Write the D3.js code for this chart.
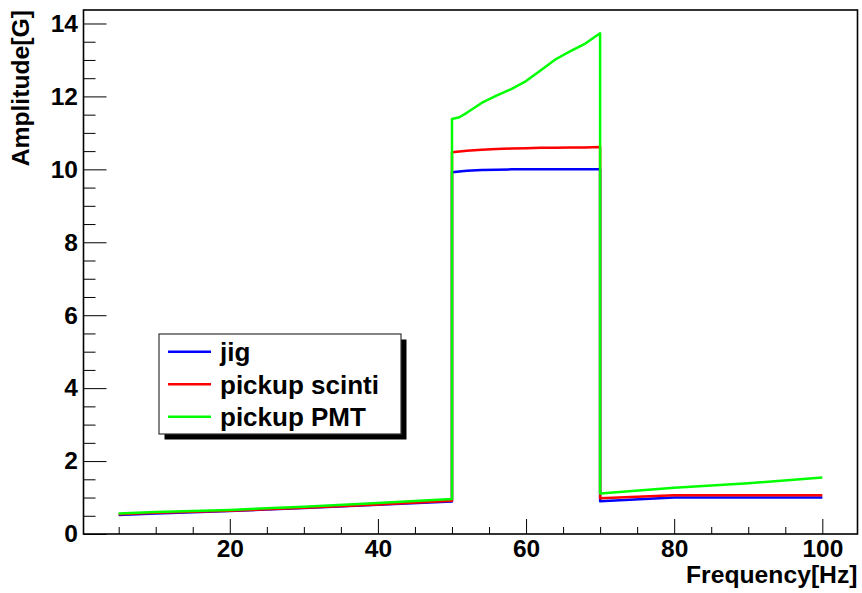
<!DOCTYPE html>
<html>
<head>
<meta charset="utf-8">
<script src="https://cdn.jsdelivr.net/npm/d3@7"></script>
<style>
  html, body { margin: 0; padding: 0; background: #fff; }
  svg { display: block; }
  text { font-family: "Liberation Sans", Arial, Helvetica, sans-serif; font-weight: bold; fill: #000; }
</style>
</head>
<body>
<svg id="chart" width="862" height="593"></svg>
<script>
// Frequency sweep (Hz); 50 and 70 appear twice to mark the step edges
const frequency = [5, 10, 20, 30, 40, 50, 50, 51, 52, 54, 56, 58, 60, 62, 64, 66, 68, 70, 70, 80, 90, 100];

// Measured amplitude (G) for each sensor
const jig          = [0.52, 0.56, 0.63, 0.71, 0.80, 0.89, 9.92, 9.94, 9.96, 9.98, 9.99, 10.0, 10.0, 10.0, 10.0, 10.0, 10.0, 10.0, 0.90, 1.00, 1.00, 1.00];
const pickupScinti = [0.54, 0.58, 0.64, 0.72, 0.81, 0.91, 10.47, 10.49, 10.51, 10.54, 10.56, 10.57, 10.58, 10.59, 10.59, 10.60, 10.60, 10.61, 0.98, 1.06, 1.06, 1.06];
const pickupPMT    = [0.56, 0.60, 0.66, 0.75, 0.85, 0.96, 11.38, 11.43, 11.55, 11.82, 12.02, 12.20, 12.42, 12.72, 13.02, 13.24, 13.45, 13.73, 1.11, 1.27, 1.39, 1.55];

const seriesNames  = ["jig", "pickup scinti", "pickup PMT"];
const seriesColors = ["#0000ff", "#ff0000", "#00ff00"];
const seriesValues = [jig, pickupScinti, pickupPMT];

const xMajorTicks = [20, 40, 60, 80, 100];
const yMajorTicks = [0, 2, 4, 6, 8, 10, 12, 14];

const xTitle = "Frequency[Hz]";
const yTitle = "Amplitude[G]";

// ---- layout ----
const frame = { left: 83.5, right: 857.5, top: 10, bottom: 534 };

const svg = d3.select("#chart");

const x = d3.scaleLinear().domain([0.25, 104.75]).range([frame.left, frame.right]);
const y = d3.scaleLinear().domain([0, 14.37]).range([frame.bottom, frame.top]);

// minor tick positions
const xMinor = d3.range(5, 105, 5).filter(v => !xMajorTicks.includes(v));
const yMinor = d3.range(0.5, 14.37, 0.5).filter(v => !yMajorTicks.includes(v));

// ---- axes ----
const gx = svg.append("g").attr("transform", `translate(0,${frame.bottom})`);
gx.call(d3.axisBottom(x).tickValues(xMinor).tickSize(-7).tickFormat(""));
gx.call(g => g.select(".domain").remove());
const gxMaj = svg.append("g").attr("transform", `translate(0,${frame.bottom})`);
gxMaj.call(d3.axisBottom(x).tickValues(xMajorTicks).tickSize(-15).tickPadding(6).tickFormat(d3.format("d")));
gxMaj.call(g => g.select(".domain").remove());

const gy = svg.append("g").attr("transform", `translate(${frame.left},0)`);
gy.call(d3.axisLeft(y).tickValues(yMinor).tickSize(-12).tickFormat(""));
gy.call(g => g.select(".domain").remove());
const gyMaj = svg.append("g").attr("transform", `translate(${frame.left},0)`);
gyMaj.call(d3.axisLeft(y).tickValues(yMajorTicks).tickSize(-23).tickPadding(5.5).tickFormat(d3.format("d")));
gyMaj.call(g => g.select(".domain").remove());

svg.selectAll(".tick line").attr("stroke", "#000").attr("stroke-width", 1);
svg.selectAll(".tick text")
  .attr("font-family", "Liberation Sans, Arial, sans-serif")
  .attr("font-weight", "bold")
  .attr("font-size", 24.5)
  .attr("fill", "#000");

// ---- data lines ----
const line = d3.line()
  .x((d, i) => x(frequency[i]))
  .y(d => y(d));

seriesValues.forEach((vals, k) => {
  svg.append("path")
    .datum(vals)
    .attr("d", line)
    .attr("fill", "none")
    .attr("stroke", seriesColors[k])
    .attr("stroke-width", 2.5)
    .attr("stroke-linejoin", "round");
});

// ---- frame ----
svg.append("rect")
  .attr("x", frame.left).attr("y", frame.top)
  .attr("width", frame.right - frame.left)
  .attr("height", frame.bottom - frame.top)
  .attr("fill", "none")
  .attr("stroke", "#000")
  .attr("stroke-width", 1.6);

// ---- axis titles ----
svg.append("text")
  .attr("x", frame.right).attr("y", 583)
  .attr("text-anchor", "end")
  .attr("font-size", 24.7)
  .text(xTitle);

svg.append("text")
  .attr("transform", `translate(29,${frame.top}) rotate(-90)`)
  .attr("text-anchor", "end")
  .attr("font-size", 24.7)
  .text(yTitle);

// ---- legend ----
const legend = { x: 159, y: 334, w: 242, h: 100, shadow: 5.5 };
const lg = svg.append("g");
lg.append("rect")
  .attr("x", legend.x + legend.shadow).attr("y", legend.y + legend.shadow)
  .attr("width", legend.w).attr("height", legend.h)
  .attr("fill", "#000");
lg.append("rect")
  .attr("x", legend.x).attr("y", legend.y)
  .attr("width", legend.w).attr("height", legend.h)
  .attr("fill", "#fff")
  .attr("stroke", "#333")
  .attr("stroke-width", 1.2);

const rowY = d3.scaleLinear().domain([0, 2]).range([351.7, 416.7]);
seriesNames.forEach((name, k) => {
  const cy = rowY(k);
  lg.append("line")
    .attr("x1", 168).attr("x2", 211)
    .attr("y1", cy).attr("y2", cy)
    .attr("stroke", seriesColors[k])
    .attr("stroke-width", 2.5);
  lg.append("text")
    .attr("x", 220).attr("y", cy)
    .attr("dy", "0.36em")
    .attr("font-size", 26)
    .text(name);
});
</script>
</body>
</html>
